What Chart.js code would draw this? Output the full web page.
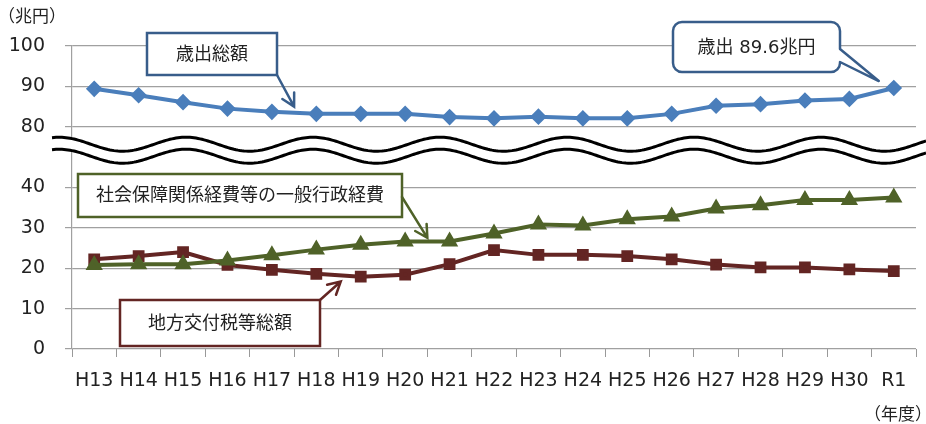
<!DOCTYPE html>
<html lang="ja">
<head>
<meta charset="utf-8">
<script src="https://cdn.jsdelivr.net/npm/chart.js@4.4.1/dist/chart.umd.min.js"></script>
<style>
  html, body { margin: 0; padding: 0; background: #fff; overflow: hidden; }
  canvas { display: block; }
</style>
</head>
<body>
<canvas id="chart" width="926" height="424"></canvas>
<script>
// 年度
const YEARS = ['H13','H14','H15','H16','H17','H18','H19','H20','H21','H22',
               'H23','H24','H25','H26','H27','H28','H29','H30','R1'];
// 歳出総額（兆円）
const SAISHUTSU = [89.4, 87.8, 86.1, 84.5, 83.7, 83.2, 83.2, 83.2, 82.4, 82.1,
                   82.5, 82.1, 82.1, 83.2, 85.2, 85.6, 86.5, 86.9, 89.6];
// 社会保障関係経費等の一般行政経費
const IPPAN = [20.8, 21.0, 21.0, 21.9, 23.2, 24.6, 25.8, 26.6, 26.6, 28.6,
               30.8, 30.6, 32.1, 32.8, 34.8, 35.6, 36.9, 36.9, 37.5];
// 地方交付税等総額
const KOFUZEI = [22.2, 23.0, 24.0, 20.8, 19.6, 18.6, 17.9, 18.4, 21.0, 24.5,
                 23.3, 23.3, 23.0, 22.2, 20.9, 20.2, 20.2, 19.7, 19.3];
// 縦軸の目盛り（40と80の間を省略）
const Y_TICKS = [0, 10, 20, 30, 40, 80, 90, 100];
const BREAK_LOW = 40, BREAK_HIGH = 80, BREAK_GAP = 15;

const FONT = "'DejaVu Sans', 'Noto Sans CJK JP', sans-serif";
const TEXT = '#222';

// 省略部分を詰めた軸上の値に変換
function toAxis(v) { return v >= BREAK_HIGH ? v - BREAK_HIGH + BREAK_LOW + BREAK_GAP : v; }

function arrow(ctx, x1, y1, x2, y2, color) {
    const a = Math.atan2(y2 - y1, x2 - x1), len = 14, w = 0.5;
    ctx.save();
    ctx.strokeStyle = color; ctx.lineWidth = 2.5; ctx.lineCap = 'round';
    ctx.beginPath();
    ctx.moveTo(x1, y1); ctx.lineTo(x2, y2);
    ctx.moveTo(x2 - len * Math.cos(a - w), y2 - len * Math.sin(a - w));
    ctx.lineTo(x2, y2);
    ctx.lineTo(x2 - len * Math.cos(a + w), y2 - len * Math.sin(a + w));
    ctx.stroke();
    ctx.restore();
}

function box(ctx, x1, y1, x2, y2, color, text) {
    ctx.save();
    ctx.fillStyle = '#fff';
    ctx.fillRect(x1, y1, x2 - x1, y2 - y1);
    ctx.strokeStyle = color; ctx.lineWidth = 2.5;
    ctx.strokeRect(x1, y1, x2 - x1, y2 - y1);
    ctx.fillStyle = TEXT; ctx.font = '18px ' + FONT;
    ctx.textAlign = 'center'; ctx.textBaseline = 'middle';
    ctx.fillText(text, (x1 + x2) / 2, (y1 + y2) / 2 + 1);
    ctx.restore();
}

// 波線・吹き出し・単位
const extras = {
    id: 'extras',
    afterDatasetsDraw(chart) {
        const ctx = chart.ctx, xs = chart.scales.x, ys = chart.scales.y;

        // 省略の波線
        const yc = ys.getPixelForValue(49.2);
        const wave = (c) => {
            for (let x = 52; x <= 926; x += 2) {
                const y = c - 7 * Math.cos(2 * Math.PI * (x - 59) / 127);
                if (x === 52) ctx.moveTo(x, y); else ctx.lineTo(x, y);
            }
        };
        ctx.save();
        ctx.beginPath();
        wave(yc - 6);
        for (let x = 926; x >= 52; x -= 2) {
            ctx.lineTo(x, yc + 6 - 7 * Math.cos(2 * Math.PI * (x - 59) / 127));
        }
        ctx.closePath();
        ctx.fillStyle = '#fff'; ctx.fill();
        ctx.strokeStyle = '#000'; ctx.lineWidth = 3;
        ctx.beginPath(); wave(yc - 6); ctx.stroke();
        ctx.beginPath(); wave(yc + 6); ctx.stroke();
        ctx.restore();

        // 歳出総額
        box(ctx, 147, 33, 277, 75, '#385d8a', '歳出総額');
        arrow(ctx, 277, 75, xs.getPixelForValue(4.5), ys.getPixelForValue(toAxis(85.0)), '#385d8a');

        // 歳出 89.6兆円（角丸の吹き出し）
        const last = YEARS.length - 1;
        const tx = xs.getPixelForValue(last) - 15, ty = ys.getPixelForValue(toAxis(SAISHUTSU[last])) - 7;
        const L = 673, T = 22, R = 840, B = 72, r = 9;
        ctx.save();
        ctx.beginPath();
        ctx.moveTo(L + r, T);
        ctx.lineTo(R - r, T); ctx.arcTo(R, T, R, T + r, r);
        ctx.lineTo(R, 49); ctx.lineTo(tx, ty); ctx.lineTo(R, 62);
        ctx.lineTo(R, B - r); ctx.arcTo(R, B, R - r, B, r);
        ctx.lineTo(L + r, B); ctx.arcTo(L, B, L, B - r, r);
        ctx.lineTo(L, T + r); ctx.arcTo(L, T, L + r, T, r);
        ctx.closePath();
        ctx.fillStyle = '#fff'; ctx.fill();
        ctx.strokeStyle = '#385d8a'; ctx.lineWidth = 2.5; ctx.lineJoin = 'round'; ctx.stroke();
        ctx.fillStyle = TEXT; ctx.font = '18px ' + FONT;
        ctx.textAlign = 'center'; ctx.textBaseline = 'middle';
        ctx.fillText('歳出 89.6兆円', (L + R) / 2, (T + B) / 2 + 1);
        ctx.restore();

        // 社会保障関係経費等の一般行政経費
        box(ctx, 78, 174, 402, 217, '#4f6228', '社会保障関係経費等の一般行政経費');
        arrow(ctx, 402, 197, xs.getPixelForValue(7.5), ys.getPixelForValue(27.5), '#4f6228');

        // 地方交付税等総額
        box(ctx, 120, 300, 320, 346, '#632523', '地方交付税等総額');
        arrow(ctx, 320, 300, xs.getPixelForValue(5.55), ys.getPixelForValue(16.7), '#632523');

        // 単位
        ctx.save();
        ctx.fillStyle = TEXT; ctx.font = "17px 'Noto Sans CJK JP', sans-serif"; ctx.textBaseline = 'middle';
        ctx.textAlign = 'left'; ctx.fillText('（兆円）', -2, 16);
        ctx.textAlign = 'right'; ctx.fillText('（年度）', 932, 414);
        ctx.restore();
    }
};

new Chart(document.getElementById('chart'), {
    type: 'line',
    data: {
        labels: YEARS,
        datasets: [
            {
                label: '歳出総額',
                data: SAISHUTSU.map(toAxis),
                borderColor: '#4a7ebb', backgroundColor: '#4a7ebb',
                borderWidth: 4, pointStyle: 'rectRot', pointRadius: 5.5
            },
            {
                label: '社会保障関係経費等の一般行政経費',
                data: IPPAN,
                borderColor: '#4f6228', backgroundColor: '#4f6228',
                borderWidth: 4, pointStyle: 'triangle', pointRadius: 6
            },
            {
                label: '地方交付税等総額',
                data: KOFUZEI,
                borderColor: '#632523', backgroundColor: '#632523',
                borderWidth: 4, pointStyle: 'rect', pointRadius: 5.5
            }
        ]
    },
    options: {
        responsive: false,
        animation: false,
        devicePixelRatio: 1,
        layout: { padding: { top: 46, right: 4, left: 0, bottom: 0 } },
        elements: { line: { tension: 0 }, point: { borderWidth: 1 } },
        plugins: { legend: { display: false }, tooltip: { enabled: false } },
        scales: {
            x: {
                offset: true,
                grid: { offset: true, drawOnChartArea: false, drawTicks: true, tickLength: 8, color: '#999' },
                border: { display: false },
                ticks: { color: TEXT, font: { family: FONT, size: 19 }, padding: 13, maxRotation: 0, autoSkip: false },
                afterFit(scale) {
                    scale.height = 75;
                    scale.paddingLeft = 0;
                    scale.paddingRight = 0;
                }
            },
            y: {
                min: 0,
                max: toAxis(100),
                afterBuildTicks(scale) {
                    scale.ticks = Y_TICKS.map(v => ({ value: toAxis(v) }));
                },
                ticks: {
                    color: TEXT, font: { family: FONT, size: 19 }, padding: 20,
                    callback: (v, i) => Y_TICKS[i]
                },
                grid: { color: '#a0a0a0', lineWidth: 1.2, tickLength: 7 },
                border: { display: true, color: '#a0a0a0', width: 1.2 },
                afterFit(scale) { scale.width = 72; }
            }
        }
    },
    plugins: [extras]
});
</script>
</body>
</html>
